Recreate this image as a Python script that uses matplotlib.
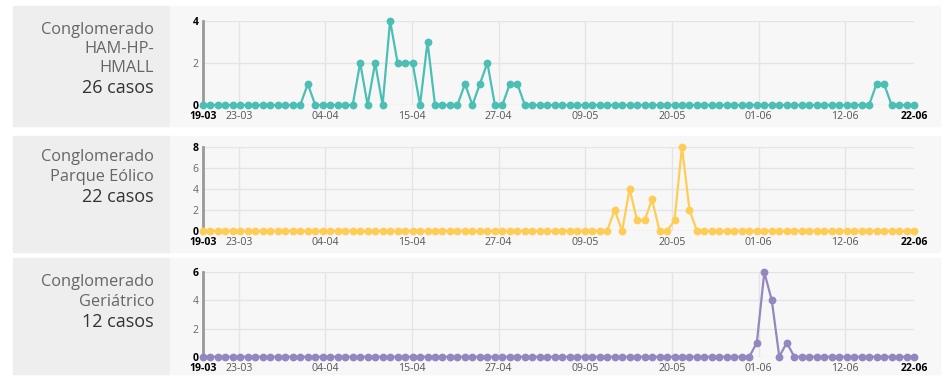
import numpy as np
import pandas as pd
import matplotlib
matplotlib.use('Agg')
import matplotlib.pyplot as plt
from matplotlib.patches import Rectangle

# data, one value per day from 19-03 to 22-06
start_date = '2020-03-19'
n_days = 96

ham = [0, 0, 0, 0, 0, 0, 0, 0, 0, 0, 0, 0, 0, 0, 1, 0,
       0, 0, 0, 0, 0, 2, 0, 2, 0, 4, 2, 2, 2, 0, 3, 0,
       0, 0, 0, 1, 0, 1, 2, 0, 0, 1, 1, 0, 0, 0, 0, 0,
       0, 0, 0, 0, 0, 0, 0, 0, 0, 0, 0, 0, 0, 0, 0, 0,
       0, 0, 0, 0, 0, 0, 0, 0, 0, 0, 0, 0, 0, 0, 0, 0,
       0, 0, 0, 0, 0, 0, 0, 0, 0, 0, 1, 1, 0, 0, 0, 0]

eolico = [0, 0, 0, 0, 0, 0, 0, 0, 0, 0, 0, 0, 0, 0, 0, 0,
          0, 0, 0, 0, 0, 0, 0, 0, 0, 0, 0, 0, 0, 0, 0, 0,
          0, 0, 0, 0, 0, 0, 0, 0, 0, 0, 0, 0, 0, 0, 0, 0,
          0, 0, 0, 0, 0, 0, 0, 2, 0, 4, 1, 1, 3, 0, 0, 1,
          8, 2, 0, 0, 0, 0, 0, 0, 0, 0, 0, 0, 0, 0, 0, 0,
          0, 0, 0, 0, 0, 0, 0, 0, 0, 0, 0, 0, 0, 0, 0, 0]

geriatrico = [0, 0, 0, 0, 0, 0, 0, 0, 0, 0, 0, 0, 0, 0, 0, 0,
              0, 0, 0, 0, 0, 0, 0, 0, 0, 0, 0, 0, 0, 0, 0, 0,
              0, 0, 0, 0, 0, 0, 0, 0, 0, 0, 0, 0, 0, 0, 0, 0,
              0, 0, 0, 0, 0, 0, 0, 0, 0, 0, 0, 0, 0, 0, 0, 0,
              0, 0, 0, 0, 0, 0, 0, 0, 0, 0, 1, 6, 4, 0, 1, 0,
              0, 0, 0, 0, 0, 0, 0, 0, 0, 0, 0, 0, 0, 0, 0, 0]

names = [["Conglomerado", "HAM-HP-", "HMALL"],
         ["Conglomerado", "Parque Eólico"],
         ["Conglomerado", "Geriátrico"]]
series = [ham, eolico, geriatrico]
colors = ["#4bbfb4", "#ffcd56", "#9487c0"]

W, H = 944, 383
plt.rcParams['font.family'] = ['Open Sans', 'DejaVu Sans']
fig = plt.figure(figsize=(W / 100, H / 100), dpi=100)
fig.patch.set_facecolor('white')

def fx(px):
    return px / W

def fy(py):
    return 1 - py / H

# dates as ms timestamps (local time UTC-3), ticks every 1e9 ms like the web chart
dates = pd.date_range(start_date, periods=n_days)
xs = ((dates + pd.Timedelta(hours=3)).astype('int64') // 10**6).astype(float).values

def fmt(ms):
    d = pd.to_datetime(ms, unit='ms') - pd.Timedelta(hours=3)
    return d.strftime('%d-%m')

boxes = [(6, 126), (136, 252), (258, 374)]
plot_y = [(20.7, 105), (146.7, 231), (272.3, 356.7)]
line_y = [[30, 49, 68], [157, 177], [282, 302]]

for i in range(3):
    vals = series[i]
    b0, b1 = boxes[i]
    fig.patches.append(Rectangle((fx(13), fy(b1)), fx(157), (b1 - b0) / H,
                                 transform=fig.transFigure, color='#eeeeee', zorder=-10))
    fig.patches.append(Rectangle((fx(170), fy(b1)), fx(770), (b1 - b0) / H,
                                 transform=fig.transFigure, color='#f7f7f7', zorder=-10))
    for j, t in enumerate(names[i]):
        fig.text(fx(154), fy(line_y[i][j]), t, ha='right', va='center',
                 fontsize=11.8, color='#666666')
    fig.text(fx(154), fy(line_y[i][-1] + 20), "%d casos" % sum(vals), ha='right',
             va='center', fontsize=13, color='#333333')

    t0, t1 = plot_y[i]
    ax = fig.add_axes([fx(203), fy(t1), fx(914 - 203), (t1 - t0) / H])
    ax.set_facecolor('none')
    ymax = max(vals)
    ax.plot(xs, vals, color=colors[i], lw=1.6, marker='o', ms=4.6,
            clip_on=False, zorder=3)
    ax.set_xlim(xs[0], xs[-1])
    ax.set_ylim(0, ymax)

    # grid lines
    yt = list(range(0, ymax + 1, 2))
    for y in yt:
        ax.axhline(y, color='#e4e4e4', lw=1, zorder=1)
    xt = np.arange(np.ceil(xs[0] / 1e9), np.floor(xs[-1] / 1e9) + 1) * 1e9
    for x in xt:
        ax.axvline(x, color='#e4e4e4', lw=1, zorder=1)

    for s in ['top', 'right', 'bottom']:
        ax.spines[s].set_visible(False)
    ax.spines['left'].set_color('#999999')
    ax.spines['left'].set_linewidth(2)
    ax.spines['left'].set_zorder(2)

    ax.set_yticks(yt)
    ax.set_yticklabels([str(y) for y in yt])
    for k, lab in enumerate(ax.get_yticklabels()):
        if yt[k] == 0 or yt[k] == ymax:
            lab.set_fontweight('bold')
            lab.set_color('black')
        else:
            lab.set_color('#666666')
    ax.tick_params(axis='y', length=0, pad=3, labelsize=7.5)

    ticks = [xs[0]] + list(xt) + [xs[-1]]
    ax.set_xticks(ticks)
    ax.set_xticklabels([fmt(t) for t in ticks])
    for k, lab in enumerate(ax.get_xticklabels()):
        if k == 0 or k == len(ticks) - 1:
            lab.set_fontweight('bold')
            lab.set_color('black')
        else:
            lab.set_color('#555555')
    ax.tick_params(axis='x', length=0, pad=4.5, labelsize=7.6)

fig.savefig('out.png', dpi=100)
